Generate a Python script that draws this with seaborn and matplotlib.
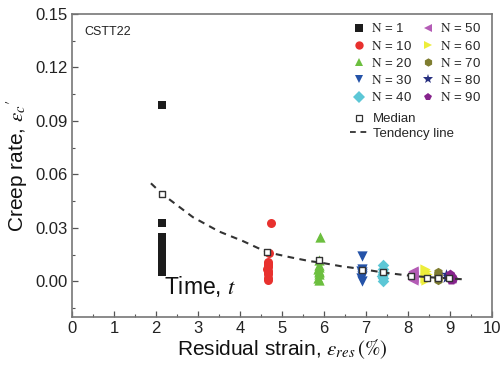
import numpy as np
import pandas as pd
import matplotlib
matplotlib.use("Agg")
import matplotlib.pyplot as plt
from matplotlib.lines import Line2D
from matplotlib.ticker import MultipleLocator
import seaborn as sns

# ---- data ----
groups = ["N = 1", "N = 10", "N = 20", "N = 30", "N = 40",
          "N = 50", "N = 60", "N = 70", "N = 80", "N = 90"]
colors = ["#1c1c1c", "#e8312e", "#6cbf3f", "#2553a8", "#5cc7d6",
          "#b45cb6", "#eded3a", "#7f7d30", "#283080", "#86238c"]
markers = ["s", "o", "^", "v", "D", "<", ">", "h", "*", "p"]

x_n1 = [2.15, 2.15, 2.15, 2.15, 2.15, 2.15, 2.15, 2.15, 2.15, 2.15, 2.15, 2.15, 2.15, 2.15, 2.15, 2.15]
y_n1 = [0.099, 0.033, 0.025, 0.022, 0.020, 0.018, 0.016, 0.014, 0.012, 0.011, 0.010, 0.009, 0.008, 0.007, 0.006, 0.005]
x_n10 = [4.74, 4.70, 4.68, 4.67, 4.66, 4.66, 4.65, 4.66, 4.67, 4.67, 4.66, 4.68]
y_n10 = [0.033, 0.016, 0.011, 0.010, 0.009, 0.008, 0.007, 0.006, 0.005, 0.004, 0.002, 0.001]
x_n20 = [5.90, 5.88, 5.89, 5.88, 5.87, 5.88, 5.89, 5.88, 5.87, 5.89]
y_n20 = [0.025, 0.012, 0.009, 0.008, 0.007, 0.006, 0.005, 0.004, 0.002, 0.001]
x_n30 = [6.90, 6.90, 6.89, 6.90, 6.91, 6.90, 6.89, 6.90]
y_n30 = [0.014, 0.007, 0.006, 0.005, 0.004, 0.003, 0.002, 0.000]
x_n40 = [7.40, 7.40, 7.41, 7.40, 7.39, 7.40, 7.40]
y_n40 = [0.009, 0.007, 0.005, 0.004, 0.003, 0.002, 0.000]
x_n50 = [8.13, 8.12, 8.10, 8.12, 8.13, 8.12]
y_n50 = [0.006, 0.005, 0.004, 0.003, 0.002, 0.001]
x_n60 = [8.42, 8.43, 8.45, 8.43, 8.42, 8.43]
y_n60 = [0.007, 0.006, 0.004, 0.003, 0.002, 0.001]
x_n70 = [8.72, 8.72, 8.72, 8.72, 8.72]
y_n70 = [0.005, 0.004, 0.003, 0.002, 0.001]
x_n80 = [8.92, 8.93, 8.92]
y_n80 = [0.004, 0.003, 0.002]
x_n90 = [9.00, 9.02, 9.05, 9.00, 9.08, 9.03]
y_n90 = [0.004, 0.003, 0.0025, 0.002, 0.0015, 0.001]

group_x = [x_n1, x_n10, x_n20, x_n30, x_n40, x_n50, x_n60, x_n70, x_n80, x_n90]
group_y = [y_n1, y_n10, y_n20, y_n30, y_n40, y_n50, y_n60, y_n70, y_n80, y_n90]
sizes = [28, 42, 55, 55, 35, 55, 55, 45, 60, 50]

median_x = [2.15, 4.65, 5.88, 6.90, 7.40, 8.07, 8.45, 8.72, 8.98]
median_y = [0.049, 0.0164, 0.012, 0.0064, 0.005, 0.0028, 0.0017, 0.0017, 0.0017]

trend_x = [1.88, 2.15, 2.88, 3.50, 4.07, 4.64, 5.20, 5.67, 5.90, 6.40, 6.93, 7.40, 8.10, 8.70, 9.35]
trend_y = [0.055, 0.049, 0.036, 0.028, 0.0226, 0.0164, 0.0135, 0.0113, 0.0106, 0.0085, 0.0068, 0.0050, 0.0030, 0.0020, 0.0011]

# ---- figure ----
sns.set_theme(style="white")
plt.rcParams["font.family"] = ["Liberation Sans", "DejaVu Sans"]
plt.rcParams["mathtext.fontset"] = "stix"

fig = plt.figure(figsize=(5.01, 3.69), dpi=100)
ax = fig.add_axes([0.1437, 0.141, 0.838, 0.821])

rows = []
for g, xs, ys in zip(groups, group_x, group_y):
    for xv, yv in zip(xs, ys):
        rows.append({"N": g, "x": xv, "y": yv})
df = pd.DataFrame(rows)

handles = []
for g, c, m, s in zip(groups, colors, markers, sizes):
    sub = df[df["N"] == g]
    sns.scatterplot(data=sub, x="x", y="y", color=c, marker=m, s=s,
                    linewidth=0, ax=ax, legend=False, zorder=3)
    handles.append(Line2D([], [], linestyle="none", marker=m, color=c,
                          markersize=6 if m != "*" else 7, markeredgewidth=0,
                          label=r"$\mathrm{N}$" + g[1:]))

sns.lineplot(x=trend_x, y=trend_y, ax=ax, color="#333333", linewidth=1.5,
             linestyle=(0, (3.2, 2.6)), sort=False, zorder=4)
sns.scatterplot(x=median_x, y=median_y, ax=ax, marker="s", s=22,
                facecolor="white", edgecolor="#333333", linewidth=1.0, zorder=5)

ax.set_xlim(0, 10)
ax.set_ylim(-0.02, 0.15)
ax.xaxis.set_major_locator(MultipleLocator(1))
ax.xaxis.set_minor_locator(MultipleLocator(0.5))
ax.set_yticks([0.0, 0.03, 0.06, 0.09, 0.12, 0.15])
ax.set_yticklabels(["0.00", "0.03", "0.06", "0.09", "0.12", "0.15"])
ax.set_yticks([-0.015, 0.015, 0.045, 0.075, 0.105, 0.135], minor=True)
ax.tick_params(which="major", direction="in", length=4, width=0.9, color="#555555",
               labelsize=12, labelcolor="#222222", pad=3)
ax.tick_params(which="minor", direction="in", length=2.5, width=0.8, color="#555555")
ax.tick_params(axis="both", which="both", bottom=True, left=True, top=False, right=False)
for sp in ax.spines.values():
    sp.set_color("#777777")
    sp.set_linewidth(1.2)

ax.set_xlabel(r"Residual strain, $\varepsilon_{res}\,\mathrm{(\%)}$", fontsize=15, labelpad=1, color="#111111")
ax.set_ylabel(r"Creep rate, $\varepsilon_c{}'$", fontsize=15, labelpad=4, color="#111111")

ax.text(0.3, 0.143, "CSTT22", fontsize=9, ha="left", va="top", color="#222222")
ax.text(2.2, -0.003, r"Time, $t$", fontsize=16.5, ha="left", va="center", color="#111111")

leg1 = ax.legend(handles=handles, ncol=2, loc="upper left",
                 bbox_to_anchor=(0.65, 0.99), frameon=False, fontsize=9.5,
                 handletextpad=0.2, columnspacing=0.5, labelspacing=0.32,
                 handlelength=1.4, borderaxespad=0)
ax.add_artist(leg1)
h_med = Line2D([], [], linestyle="none", marker="s", markerfacecolor="white",
               markeredgecolor="#333333", markersize=5, markeredgewidth=0.9, label="Median")
h_tr = Line2D([], [], color="#333333", linestyle=(0, (3.2, 2.6)), linewidth=1.3,
              label="Tendency line")
leg2 = ax.legend(handles=[h_med, h_tr], loc="upper left", bbox_to_anchor=(0.65, 0.69),
                 frameon=False, fontsize=9.5, handletextpad=0.3, labelspacing=0.15,
                 handlelength=1.4, borderaxespad=0)

fig.savefig("out.png", dpi=100)
